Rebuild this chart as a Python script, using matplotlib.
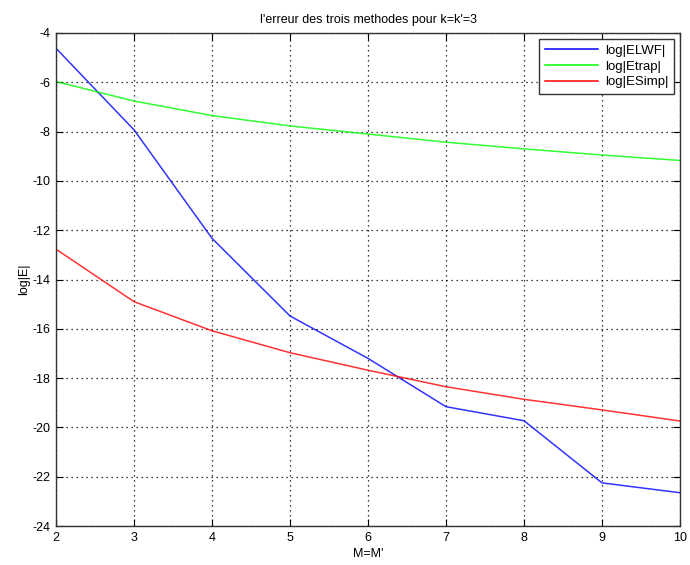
import matplotlib
matplotlib.use("Agg")
import matplotlib.pyplot as plt

M = [2, 3, 4, 5, 6, 7, 8, 9, 10]
elwf = [-4.62, -7.93, -12.33, -15.48, -17.2, -19.16, -19.73, -22.25, -22.65]
etrap = [-5.97, -6.76, -7.35, -7.77, -8.1, -8.43, -8.7, -8.95, -9.17]
esimp = [-12.77, -14.9, -16.08, -16.97, -17.68, -18.35, -18.86, -19.29, -19.74]

plt.rcParams['font.family'] = ['Liberation Sans', 'DejaVu Sans']
plt.rcParams['axes.unicode_minus'] = False

fig = plt.figure(figsize=(6.9, 5.65), dpi=100)
ax = fig.add_axes([0.0812, 0.069, 0.9043, 0.8726])

ax.plot(M, elwf, color=(0, 0, 1), lw=1.1, alpha=0.8, label='log|ELWF|')
ax.plot(M, etrap, color=(0, 1, 0), lw=1.1, alpha=0.8, label='log|Etrap|')
ax.plot(M, esimp, color=(1, 0, 0), lw=1.1, alpha=0.8, label='log|ESimp|')

ax.set_xlim(2, 10)
ax.set_ylim(-24, -4)
ax.set_xticks(range(2, 11))
ax.set_yticks(range(-24, -3, 2))
ax.grid(True, color='black', linestyle=(0, (1, 3)), linewidth=0.9)
ax.tick_params(direction='in', top=True, right=True, labelsize=9, length=5, pad=4)
for s in ax.spines.values():
    s.set_linewidth(1.0)
    s.set_color('#333333')

ax.set_title("l'erreur des trois methodes pour k=k'=3", fontsize=9, pad=7)
ax.set_xlabel("M=M'", fontsize=9, labelpad=3)
ax.set_ylabel("log|E|", fontsize=9, labelpad=2)

leg = ax.legend(loc='upper right', fontsize=9.5, fancybox=False, framealpha=1,
                edgecolor='#333333', handlelength=4.0, borderpad=0.45,
                labelspacing=0.25, handletextpad=0.5, borderaxespad=0.45)
leg.get_frame().set_linewidth(1.0)
for line in leg.get_lines():
    line.set_alpha(1)

fig.savefig('out.png', dpi=100)
